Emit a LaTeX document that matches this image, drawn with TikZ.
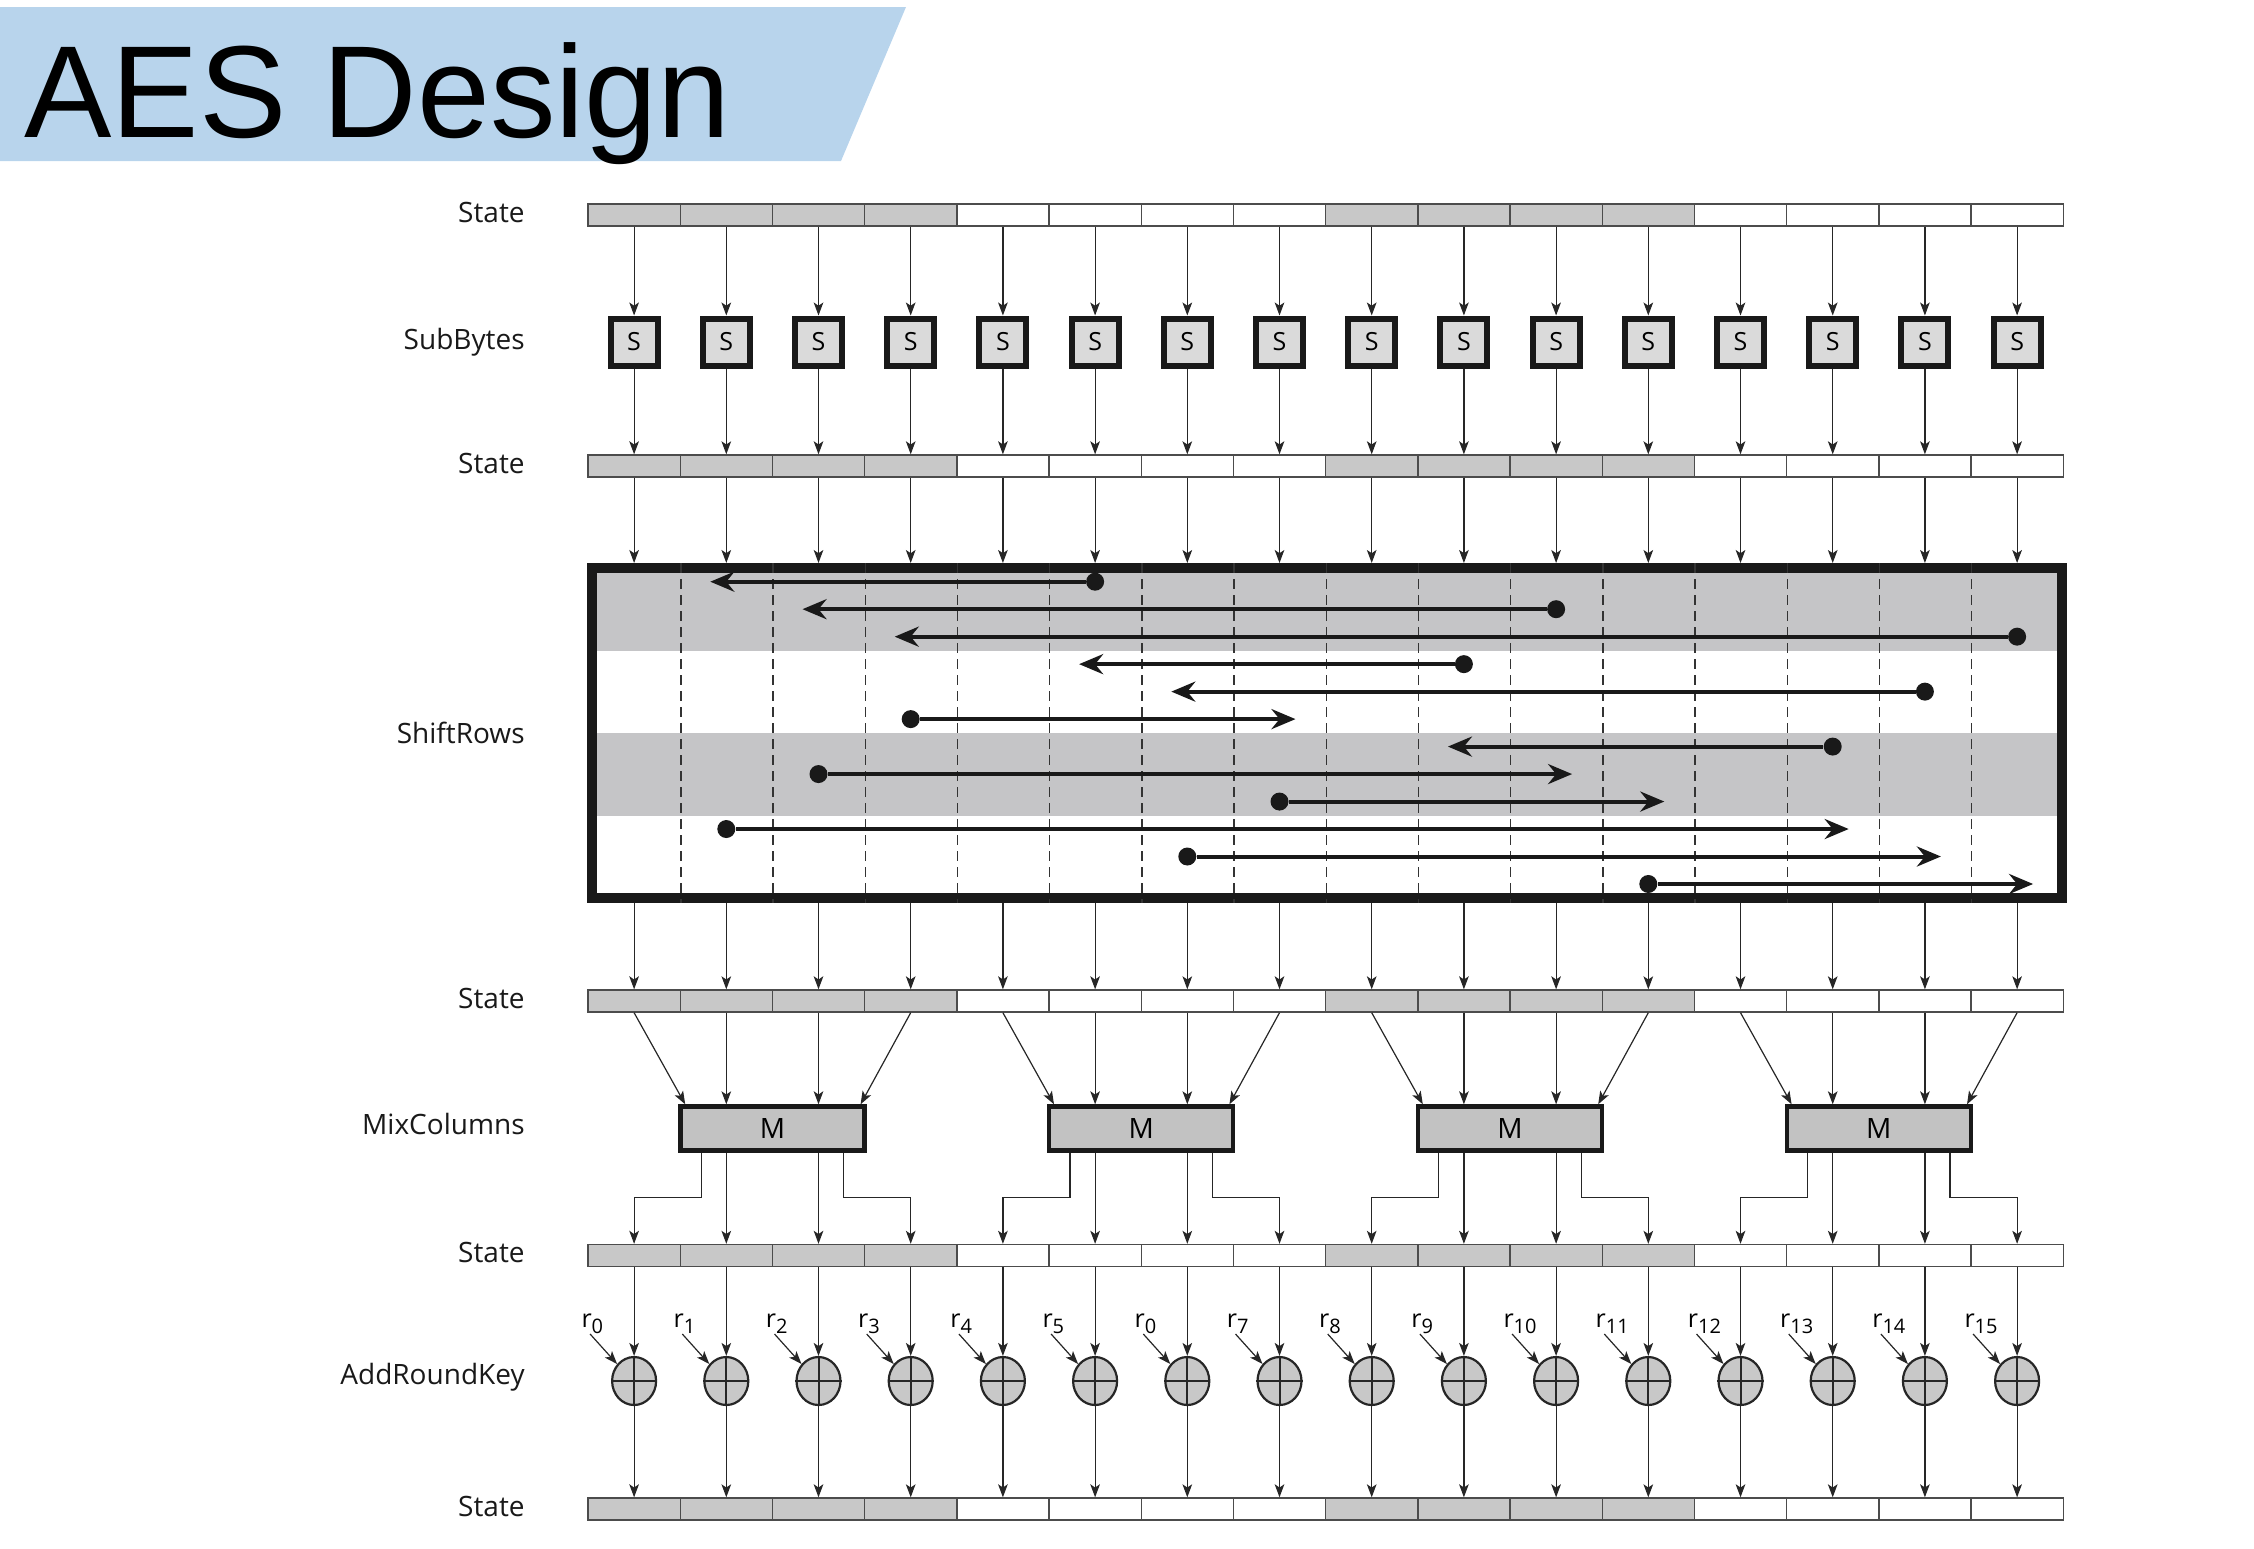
\documentclass[tikz,border=0pt]{standalone}
\usepackage{fontspec}
\setmainfont{Open Sans}
\newfontfamily\titlefont{Liberation Sans}
\usepackage{xcolor}
\usepackage{tikz}
\usetikzlibrary{arrows.meta,positioning,shapes.geometric,calc}

\definecolor{banner}{RGB}{184,212,236}
\definecolor{cellgray}{RGB}{200,200,200}
\definecolor{bandgray}{RGB}{197,197,199}
\definecolor{sboxgray}{RGB}{218,218,218}
\definecolor{mixgray}{RGB}{194,194,194}
\definecolor{xorgray}{RGB}{200,200,200}

\newcommand{\keysub}[1]{\raisebox{-3pt}{\fontsize{10}{10}\selectfont #1}}

\begin{document}
\begin{tikzpicture}[
      x=0.5pt, y=-0.5pt,
      font=\fontsize{14}{16}\selectfont,
      cell/.style={draw=black!70, line width=0.7pt, minimum width=46.1pt,
                   minimum height=11pt, inner sep=0pt},
      sbox/.style={draw=black!90, line width=3pt, fill=sboxgray,
                   minimum size=23.5pt, inner sep=0pt,
                   font=\fontsize{12.5}{12.5}\selectfont},
      mbox/.style={draw=black!90, line width=2.2pt, fill=mixgray,
                   minimum width=92pt, minimum height=22pt, inner sep=0pt},
      xorop/.style={ellipse, draw=black!85, line width=1.1pt, fill=xorgray,
                    minimum width=22pt, minimum height=24pt, inner sep=0pt},
      srbox/.style={draw=black!90, line width=5pt, minimum width=735pt,
                    minimum height=165pt, inner sep=0pt},
      srcdot/.style={circle, fill=black!90, minimum size=9pt, inner sep=0pt},
      flow/.style={-{Stealth[length=6.5pt, width=4.8pt, inset=1.6pt]},
                   line width=0.6pt, black!85},
      shiftarr/.style={-{Stealth[length=12pt, width=10pt, inset=4pt]},
                       line width=2pt, black!90},
      divider/.style={dash pattern=on 5pt off 3pt, line width=0.7pt, black!80},
      lbl/.style={anchor=east, inner sep=0pt, text=black!90},
      keylbl/.style={anchor=south west, inner sep=0pt,
                     font=\fontsize{12.5}{12.5}\selectfont},
    ]
    \useasboundingbox (0,0) rectangle (2254,1548);

    % --- title banner -------------------------------------------------------
    \fill[banner] (0,7) -- (906,7) -- (841,161) -- (0,161) -- cycle;
    \node[anchor=base west, inner sep=0pt,
          font=\titlefont\fontsize{65.5}{65.5}\selectfont] (title) at (24,137)
          {AES Design};

    % --- step labels on the left -----------------------------------------
    \node[lbl] (lst1) at (525,212)    {State};
    \node[lbl] (lsub) at (525,342)    {SubBytes};
    \node[lbl] (lst2) at (525,463)    {State};
    \node[lbl] (lshf) at (525,733)    {ShiftRows};
    \node[lbl] (lst3) at (525,998)    {State};
    \node[lbl] (lmix) at (525,1124)   {MixColumns};
    \node[lbl] (lst4) at (525,1252)   {State};
    \node[lbl] (ladd) at (525,1377)   {AddRoundKey};
    \node[lbl] (lst5) at (525,1506)   {State};

    % --- the five state rows, 16 bytes each --------------------------------
    \foreach \b/\y in {1/215, 2/466, 3/1001, 4/1255.5, 5/1509}
      \foreach \i in {0,...,15} {
        \pgfmathtruncatemacro\g{mod(int(\i/4),2)}
        \ifnum\g=0 \def\cellcol{cellgray}\else\def\cellcol{white}\fi
        \node[cell, fill=\cellcol] (s\b-\i) at (634.1+92.2*\i,\y) {};
      }

    % --- SubBytes: one S-box per byte --------------------------------------
    \foreach \i in {0,...,15} {
      \node[sbox] (sb\i) at (634.1+92.2*\i,342) {S};
      \draw[flow] (s1-\i) -- (sb\i);
      \draw[flow] (sb\i) -- (s2-\i);
    }

    % --- ShiftRows box: shaded rows, byte columns, moves --------------------
    \fill[bandgray] (592,568) rectangle (2062,650.5);
    \fill[bandgray] (592,733) rectangle (2062,815.5);
    \node[srbox] (sr) at (1327,733) {};
    \foreach \i in {0,...,14}
      \draw[divider] (s2-\i.east |- sr.north) -- (s2-\i.east |- sr.south);
    \foreach \i in {0,...,15} {
      \draw[flow] (s2-\i) -- (s2-\i |- sr.north);
      \draw[flow] (s3-\i |- sr.south) -- (s3-\i);
    }
    \foreach \j/\a/\t in {0/5/1, 1/10/2, 2/15/3, 3/9/5, 4/14/6, 5/3/7,
                          6/13/9, 7/2/10, 8/7/11, 9/1/13, 10/6/14, 11/11/15} {
      \pgfmathsetmacro\ry{581.7+27.48*\j}
      \pgfmathsetmacro\tx{634.1+92.2*\t+16*sign(\t-\a)}
      \node[srcdot] (d\j) at (634.1+92.2*\a,\ry) {};
      \coordinate (e\j) at (\tx,\ry);
      \draw[shiftarr] (d\j) -- (e\j);
    }

    % --- MixColumns: one M per column of four bytes -------------------------
    \foreach \k in {0,...,3} {
      \pgfmathtruncatemacro\ca{4*\k}
      \pgfmathtruncatemacro\cb{4*\k+1}
      \pgfmathtruncatemacro\cc{4*\k+2}
      \pgfmathtruncatemacro\cd{4*\k+3}
      \node[mbox] (m\k) at (772.4+368.8*\k,1128.5) {M};
      \draw[flow] (s3-\ca.south) -- ([xshift=3.5pt]m\k.north west);
      \draw[flow] (s3-\cb) -- (s3-\cb |- m\k.north);
      \draw[flow] (s3-\cc) -- (s3-\cc |- m\k.north);
      \draw[flow] (s3-\cd.south) -- ([xshift=-3pt]m\k.north east);
      \draw[flow] ([xshift=11.5pt]m\k.south west) -- ++(0,45) -| (s4-\ca.north);
      \draw[flow] (m\k.south -| s4-\cb) -- (s4-\cb);
      \draw[flow] (m\k.south -| s4-\cc) -- (s4-\cc);
      \draw[flow] ([xshift=-11.5pt]m\k.south east) -- ++(0,45) -| (s4-\cd.north);
    }

    % --- AddRoundKey: XOR with the round key bytes ---------------------------
    \foreach \i/\r in {0/0, 1/1, 2/2, 3/3, 4/4, 5/5, 6/0, 7/7, 8/8, 9/9,
                       10/10, 11/11, 12/12, 13/13, 14/14, 15/15} {
      \node[xorop] (x\i) at (634.1+92.2*\i,1381) {};
      \draw[line width=1pt, black!85] (x\i.north) -- (x\i.south)
                                      (x\i.west) -- (x\i.east);
      \node[keylbl] (k\i) at (634.1+92.2*\i-53,1334) {r\keysub{\r}};
      \draw[flow] ([xshift=4.5pt]k\i.south west) -- (x\i.135);
      \draw[flow] (s4-\i) -- (x\i);
      \draw[flow] (x\i) -- (s5-\i);
    }
  \end{tikzpicture}
\end{document}
